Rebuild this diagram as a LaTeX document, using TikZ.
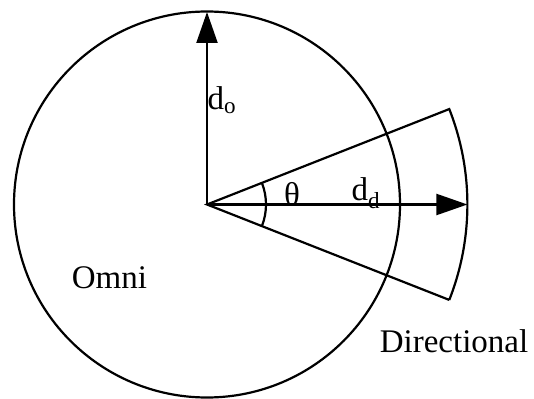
\documentclass[tikz,border=0pt]{standalone}
\usepackage{fontspec}
\setmainfont{Liberation Serif}
\usepackage{tikz}
\usetikzlibrary{arrows.meta,calc}

\begin{document}
\begin{tikzpicture}[
  x=1pt, y=1pt,
  edge/.style={line width=2.2pt},
  lbl/.style={font=\fontsize{33}{36}\selectfont, inner sep=0pt},
  >={Triangle[length=31pt, width=21pt]}
]
\useasboundingbox (-207,-193.5) rectangle (327,204.5);

\coordinate (o)   at (0,0);
\coordinate (top) at (0,192.5);
\coordinate (tip) at (260.4,0);
\coordinate (up)  at (21.5:260.4);
\coordinate (lo)  at (-21.5:260.4);

% omni range
\draw[edge] (o) circle (193);

% directional sector
\draw[edge] (lo) -- (o) -- (up) arc (21.5:-21.5:260.4);
\draw[edge] ($(o)+(-21.5:59)$) arc (-21.5:21.5:59);

\draw[edge,->] (o) -- (top);
\draw[edge,->] (o) -- (tip);

\node[lbl] (dome) at (15,104.5) {d\textsubscript{o}};
\node[lbl] (dd)   at (159,11.5) {d\textsubscript{d}};
\node[lbl] (th)   at (85,10.5)  {θ};
\node[lbl, anchor=base] (omni) at (-97.5,-83.5)  {Omni};
\node[lbl, anchor=base] (dir)  at (247,-147.5)   {Directional};
\end{tikzpicture}
\end{document}
